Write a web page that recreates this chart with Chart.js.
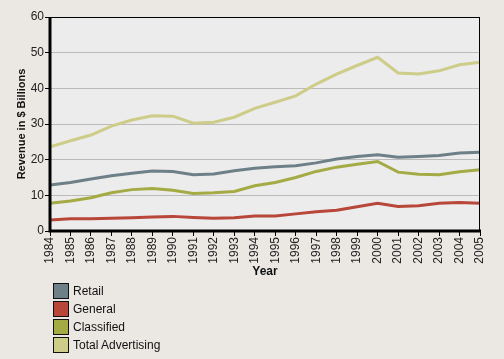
<!DOCTYPE html>
<html>
<head>
<meta charset="utf-8">
<script src="https://cdn.jsdelivr.net/npm/chart.js@4"></script>
<style>
  html, body { margin: 0; padding: 0; background: #ebe8e4; }
  #wrap { position: relative; width: 504px; height: 359px; background: #ebe8e4; }
  #legend { position: absolute; left: 53px; top: 283px; font: 12px "Liberation Sans", Arial, sans-serif; color: #111; }
  .item { height: 18px; display: flex; align-items: flex-start; }
  .sw { width: 14px; height: 14px; border: 1px solid #111; margin-right: 4px; }
  .lbl { line-height: 16px; }
</style>
</head>
<body>
<div id="wrap">
  <canvas id="chart" width="504" height="359"></canvas>
  <div id="legend"></div>
</div>
<script>
// Years on the x axis
const years = ['1984','1985','1986','1987','1988','1989','1990','1991','1992','1993','1994',
  '1995','1996','1997','1998','1999','2000','2001','2002','2003','2004','2005'];

// Revenue in $ billions
const retail = [12.9, 13.6, 14.6, 15.5, 16.2, 16.8, 16.7, 15.8, 16.0, 16.9, 17.6,
  18.0, 18.3, 19.1, 20.2, 20.9, 21.4, 20.7, 20.9, 21.2, 21.9, 22.1];
const general = [3.1, 3.4, 3.4, 3.6, 3.7, 3.9, 4.1, 3.8, 3.6, 3.7, 4.2,
  4.2, 4.8, 5.4, 5.8, 6.8, 7.8, 6.9, 7.1, 7.8, 8.0, 7.8];
const classified = [7.8, 8.4, 9.3, 10.7, 11.6, 11.9, 11.4, 10.5, 10.7, 11.1, 12.7,
  13.6, 15.0, 16.7, 17.9, 18.7, 19.5, 16.5, 15.9, 15.8, 16.6, 17.2];
const totalAdvertising = [23.6, 25.3, 26.9, 29.4, 31.1, 32.3, 32.2, 30.2, 30.5, 31.9, 34.4,
  36.1, 37.9, 41.2, 44.0, 46.4, 48.7, 44.3, 44.0, 44.9, 46.6, 47.3];

const seriesNames = ['Retail', 'General', 'Classified', 'Total Advertising'];
const seriesColors = ['#6d8088', '#b8473a', '#a4ab44', '#cdcc88'];
const seriesData = [retail, general, classified, totalAdvertising];

const font = "'Liberation Sans', Arial, sans-serif";

// plot background + black frame round the plot area
const framePlugin = {
  id: 'frame',
  beforeDraw(chart) {
    const {ctx, chartArea: a} = chart;
    ctx.save();
    ctx.fillStyle = '#ececec';
    ctx.fillRect(a.left, a.top, a.right - a.left, a.bottom - a.top);
    ctx.restore();
  },
  afterDraw(chart) {
    const {ctx, chartArea: a} = chart;
    ctx.save();
    ctx.strokeStyle = '#000';
    ctx.lineWidth = 1;
    ctx.strokeRect(a.left + 0.5, a.top + 0.5, a.right - a.left - 1, a.bottom - a.top);
    ctx.lineWidth = 3;
    ctx.beginPath();
    ctx.moveTo(a.left, a.top);
    ctx.lineTo(a.left, a.bottom);
    ctx.lineTo(a.right + 1, a.bottom);
    ctx.stroke();
    ctx.restore();
  }
};

const ctx = document.getElementById('chart').getContext('2d');
new Chart(ctx, {
  type: 'line',
  data: {
    labels: years,
    datasets: seriesNames.map((name, i) => ({
      label: name,
      data: seriesData[i],
      borderColor: seriesColors[i],
      backgroundColor: seriesColors[i],
      borderWidth: 3,
      pointRadius: 0,
      tension: 0
    }))
  },
  options: {
    responsive: false,
    animation: false,
    layout: { padding: { left: 0, right: 24, top: 17, bottom: 78 } },
    plugins: { legend: { display: false }, tooltip: { enabled: false } },
    scales: {
      x: {
        offset: false,
        grid: { drawOnChartArea: false, drawTicks: true, tickLength: 5, tickColor: '#000', tickWidth: 1 },
        border: { display: false },
        ticks: { color: '#222', font: { family: font, size: 12 }, minRotation: 90, maxRotation: 90, padding: 1, autoSkip: false },
        title: { display: true, text: 'Year', color: '#111', font: { family: font, size: 12, weight: 'bold' }, padding: { top: 0, bottom: 2 } },
        afterFit(scale) { scale.height = 50; }
      },
      y: {
        min: 0, max: 60,
        ticks: { stepSize: 10, color: '#222', font: { family: font, size: 12 }, padding: 1 },
        grid: { color: '#bbbbbb', lineWidth: 1, tickLength: 5, tickColor: '#000' },
        border: { display: false },
        title: { display: true, text: 'Revenue in $ Billions', color: '#111', font: { family: font, size: 11, weight: 'bold' }, padding: { top: 15, bottom: 0 } },
        afterFit(scale) { scale.width = 50; }
      }
    }
  },
  plugins: [framePlugin]
});

// legend, one row per series
const legend = document.getElementById('legend');
seriesNames.forEach((name, i) => {
  const row = document.createElement('div');
  row.className = 'item';
  row.innerHTML = '<div class="sw" style="background:' + seriesColors[i] + '"></div><span class="lbl">' + name + '</span>';
  legend.appendChild(row);
});
</script>
</body>
</html>
